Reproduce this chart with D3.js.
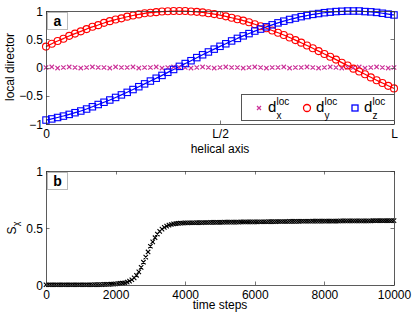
<!DOCTYPE html>
<html>
<head>
<meta charset="utf-8">
<script src="https://cdn.jsdelivr.net/npm/d3@7"></script>
<style>
  body { margin: 0; background: #fff; }
  text { font-family: "Liberation Sans", Arial, sans-serif; fill: #000; }
</style>
</head>
<body>
<div id="target"></div>
<script>
const width = 415,
  height = 316;

// panel a: local director components along helical axis (61 samples, 0..L)
const dx = [0.00, 0.01, -0.01, 0.00, 0.01, 0.00, -0.01, 0.00, 0.01, 0.00, 0.00, -0.01, 0.01, 0.00, 0.00,
  0.01, -0.01, 0.00, 0.00, 0.01, -0.01, 0.00, 0.01, 0.00, 0.00, -0.01, 0.00, 0.01, 0.00, -0.01,
  0.00, 0.01, 0.00, 0.00, -0.01, 0.00, 0.01, 0.00, -0.01, 0.00, 0.00, 0.01, -0.01, 0.00, 0.00,
  0.01, 0.00, -0.01, 0.00, 0.01, 0.00, -0.01, 0.00, 0.00, 0.01, -0.01, 0.00, 0.01, 0.00, -0.01, 0.00];
const dy = [0.37, 0.42, 0.47, 0.51, 0.56, 0.60, 0.64, 0.68, 0.72, 0.75, 0.79, 0.82, 0.85, 0.87, 0.90,
  0.92, 0.94, 0.96, 0.97, 0.98, 0.99, 0.995, 1.00, 1.00, 1.00, 0.99, 0.985, 0.975, 0.96, 0.945,
  0.93, 0.905, 0.88, 0.855, 0.83, 0.80, 0.765, 0.73, 0.695, 0.655, 0.615, 0.575, 0.53, 0.485, 0.44,
  0.39, 0.34, 0.29, 0.24, 0.19, 0.14, 0.085, 0.035, -0.02, -0.07, -0.12, -0.175, -0.225, -0.275, -0.325, -0.37];
const dz = [-0.93, -0.91, -0.885, -0.86, -0.83, -0.80, -0.77, -0.735, -0.695, -0.655, -0.615, -0.575, -0.53, -0.485, -0.44,
  -0.39, -0.34, -0.29, -0.24, -0.19, -0.14, -0.085, -0.035, 0.02, 0.07, 0.12, 0.175, 0.225, 0.275, 0.325,
  0.375, 0.42, 0.47, 0.515, 0.56, 0.60, 0.645, 0.68, 0.72, 0.755, 0.79, 0.82, 0.85, 0.875, 0.90,
  0.92, 0.94, 0.955, 0.97, 0.98, 0.99, 0.995, 1.00, 1.00, 1.00, 0.99, 0.985, 0.975, 0.96, 0.945, 0.93];
const xTicksA = [0, 0.5, 1];
const xTickLabelsA = ["0", "L/2", "L"];

// panel b: chiral order parameter vs time steps (151 samples, 0..10000)
const tMax = 10000;
const sChi = [
  0.002, 0.002, 0.002, 0.002, 0.002, 0.002, 0.002, 0.002, 0.002, 0.002,
  0.002, 0.002, 0.002, 0.002, 0.002, 0.002, 0.002, 0.002, 0.002, 0.002,
  0.002, 0.003, 0.003, 0.004, 0.004, 0.005, 0.005, 0.006, 0.007, 0.008,
  0.010, 0.012, 0.014, 0.017, 0.020, 0.025, 0.034, 0.046, 0.062, 0.085,
  0.115, 0.155, 0.200, 0.245, 0.290, 0.340, 0.378, 0.415, 0.447, 0.470,
  0.490, 0.505, 0.516, 0.525, 0.531, 0.536, 0.539, 0.541, 0.543, 0.544,
  0.545, 0.545, 0.546, 0.546, 0.546, 0.547, 0.547, 0.547, 0.548, 0.548,
  0.548, 0.549, 0.549, 0.549, 0.550, 0.550, 0.550, 0.551, 0.551, 0.551,
  0.552, 0.552, 0.552, 0.552, 0.553, 0.553, 0.553, 0.553, 0.554, 0.554,
  0.554, 0.554, 0.555, 0.555, 0.555, 0.555, 0.556, 0.556, 0.556, 0.556,
  0.557, 0.557, 0.557, 0.557, 0.557, 0.558, 0.558, 0.558, 0.558, 0.558,
  0.559, 0.559, 0.559, 0.559, 0.559, 0.560, 0.560, 0.560, 0.560, 0.560,
  0.560, 0.561, 0.561, 0.561, 0.561, 0.561, 0.561, 0.562, 0.562, 0.562,
  0.562, 0.562, 0.562, 0.562, 0.563, 0.563, 0.563, 0.563, 0.563, 0.563,
  0.563, 0.564, 0.564, 0.564, 0.564, 0.564, 0.564, 0.564, 0.564, 0.565, 0.565];
const xTicksB = [0, 2000, 4000, 6000, 8000, 10000];

const colX = "#cc3399", colY = "#ff0000", colZ = "#0000ff";

const svg = d3.select("#target").append("svg")
  .attr("width", width)
  .attr("height", height);

const left = 46, right = 394;

function frame(g, x, y, xTicks, yTicks, xFmt, yFmt) {
  const [x0, x1] = x.range(), [y0, y1] = y.range();
  // ticks inward on all four sides
  xTicks.forEach((t) => {
    const px = Math.round(x(t)) + 0.5;
    g.append("line").attr("x1", px).attr("x2", px).attr("y1", y0).attr("y2", y0 - 3.5);
    g.append("line").attr("x1", px).attr("x2", px).attr("y1", y1).attr("y2", y1 + 3.5);
  });
  yTicks.forEach((t) => {
    const py = Math.round(y(t)) + 0.5;
    g.append("line").attr("x1", x0).attr("x2", x0 + 3.5).attr("y1", py).attr("y2", py);
    g.append("line").attr("x1", x1).attr("x2", x1 - 3.5).attr("y1", py).attr("y2", py);
  });
  g.selectAll("line").attr("stroke", "#555").attr("stroke-width", 0.8);
  g.append("rect")
    .attr("x", x0 + 0.5).attr("y", y1 + 0.5)
    .attr("width", x1 - x0).attr("height", y0 - y1)
    .attr("fill", "none").attr("stroke", "#333").attr("stroke-width", 0.8);
  g.selectAll(".xl").data(xTicks).enter().append("text")
    .attr("x", (d) => x(d) + 0.5).attr("y", y0 + 14)
    .attr("text-anchor", "middle").attr("font-size", 12)
    .text(xFmt);
  g.selectAll(".yl").data(yTicks).enter().append("text")
    .attr("x", x0 - 3).attr("y", (d) => y(d) + 4.5)
    .attr("text-anchor", "end").attr("font-size", 12)
    .text(yFmt);
}

function panelLabel(g, x0, y0, s) {
  g.append("rect").attr("x", x0 + 1.5).attr("y", y0 + 1.5).attr("width", 20).attr("height", 17)
    .attr("fill", "#fff").attr("stroke", "#bbb").attr("stroke-width", 1);
  g.append("text").attr("x", x0 + 11.5).attr("y", y0 + 15).attr("text-anchor", "middle")
    .attr("font-size", 14).attr("font-weight", "bold").text(s);
}

function crossPath(px, py, r) {
  return `M${px - r},${py - r}L${px + r},${py + r}M${px - r},${py + r}L${px + r},${py - r}`;
}

const minus = (v) => String(v).replace("-", "\u2212");

// ---------- panel a ----------
const xa = d3.scaleLinear().domain([0, 1]).range([left, right]);
const ya = d3.scaleLinear().domain([-1, 1]).range([124, 11]);
const pos = (i) => xa(i / (dy.length - 1));

const ga = svg.append("g");

const lineA = (arr) => d3.line()
  .x((d, i) => pos(i))
  .y((d) => ya(d))
  .curve(d3.curveBasis)(arr);

ga.append("path").attr("d", lineA(dy)).attr("fill", "none").attr("stroke", colY).attr("stroke-width", 1.2);
ga.append("path").attr("d", lineA(dz)).attr("fill", "none").attr("stroke", colZ).attr("stroke-width", 1.2);

ga.append("path")
  .attr("d", dx.map((d, i) => crossPath(pos(i), ya(d), 2.2)).join(""))
  .attr("stroke", colX).attr("stroke-width", 1.2).attr("fill", "none");

ga.selectAll(".cy").data(dy).enter().append("circle")
  .attr("cx", (d, i) => pos(i)).attr("cy", (d) => ya(d)).attr("r", 3.5)
  .attr("fill", "none").attr("stroke", colY).attr("stroke-width", 1.1);

ga.selectAll(".sz").data(dz).enter().append("rect")
  .attr("x", (d, i) => pos(i) - 3.2).attr("y", (d) => ya(d) - 3.2)
  .attr("width", 6.4).attr("height", 6.4)
  .attr("fill", "none").attr("stroke", colZ).attr("stroke-width", 1.1);

frame(ga.append("g"), xa, ya, xTicksA, [-1, -0.5, 0, 0.5, 1],
  (d, i) => xTickLabelsA[i], minus);
panelLabel(ga, left, 11, "a");

// legend
const lg = ga.append("g");
lg.append("rect").attr("x", 241.5).attr("y", 94.5).attr("width", 153).attr("height", 26)
  .attr("fill", "#fff").attr("stroke", "#555").attr("stroke-width", 1);
const legItems = [
  { sub: "x", x: 268, kind: "x", color: colX },
  { sub: "y", x: 316, kind: "o", color: colY },
  { sub: "z", x: 364, kind: "s", color: colZ }
];
legItems.forEach((it) => {
  const mx = it.x - 9, my = 108;
  if (it.kind === "x") {
    lg.append("path").attr("d", crossPath(mx, my, 2)).attr("stroke", it.color).attr("stroke-width", 1.2);
  } else if (it.kind === "o") {
    lg.append("circle").attr("cx", mx).attr("cy", my).attr("r", 3.5)
      .attr("fill", "none").attr("stroke", it.color).attr("stroke-width", 1.3);
  } else {
    lg.append("rect").attr("x", mx - 3).attr("y", my - 3).attr("width", 6).attr("height", 6)
      .attr("fill", "none").attr("stroke", it.color).attr("stroke-width", 1.3);
  }
  lg.append("text").attr("x", it.x).attr("y", 112).attr("font-size", 15).text("d");
  lg.append("text").attr("x", it.x + 8.5).attr("y", 105).attr("font-size", 10).text("loc");
  lg.append("text").attr("x", it.x + 8.5).attr("y", 118.5).attr("font-size", 10).text(it.sub);
});

svg.append("text").attr("x", 220).attr("y", 153).attr("text-anchor", "middle")
  .attr("font-size", 12).text("helical axis");
svg.append("text").attr("transform", "translate(14,67) rotate(-90)")
  .attr("text-anchor", "middle").attr("font-size", 12).text("local director");

// ---------- panel b ----------
const xb = d3.scaleLinear().domain([0, tMax]).range([left, right]);
const yb = d3.scaleLinear().domain([0, 1]).range([285, 171]);
const gb = svg.append("g");

gb.append("path")
  .attr("d", sChi.map((d, i) => crossPath(xb(i * tMax / (sChi.length - 1)), yb(d), 2.2)).join(""))
  .attr("stroke", "#000").attr("stroke-width", 1.1).attr("fill", "none");

frame(gb.append("g"), xb, yb, xTicksB, [0, 0.5, 1], (d) => String(d), (d) => String(d));
panelLabel(gb, left, 171, "b");

svg.append("text").attr("x", 220).attr("y", 309).attr("text-anchor", "middle")
  .attr("font-size", 12).text("time steps");
const sl = svg.append("text").attr("transform", "translate(16,228) rotate(-90)")
  .attr("text-anchor", "middle").attr("font-size", 12);
sl.append("tspan").text("S");
sl.append("tspan").attr("font-size", 9).attr("dy", 3).text("\u03c7");
</script>
</body>
</html>
